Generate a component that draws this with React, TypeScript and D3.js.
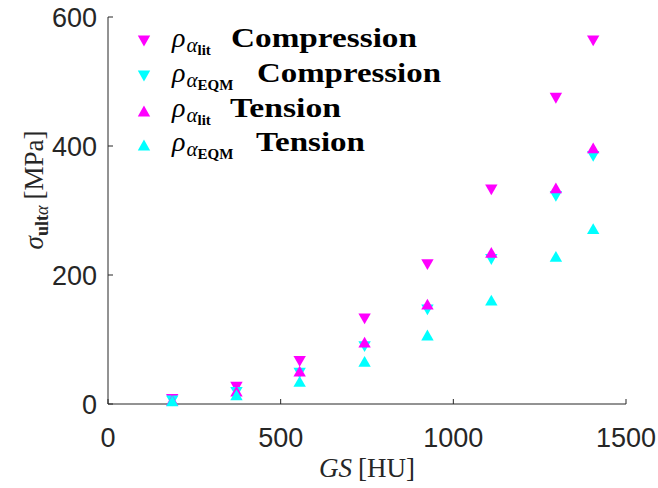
import React from "react";
import * as d3 from "d3";

const gsValues = [186, 372, 555, 743, 925, 1110, 1297, 1405];
const litCompression = [7, 26, 66, 132, 216, 332, 474, 563];
const eqmCompression = [5, 18, 48, 89, 146, 224, 322, 384];
const litTension = [6, 20, 51, 96, 155, 235, 335, 397];
const eqmTension = [5, 14, 35, 66, 107, 161, 229, 272];
const xTicks = [0, 500, 1000, 1500];
const yTicks = [0, 200, 400, 600];

const MAGENTA = "#ff00ff";
const CYAN = "#00ffff";
const AX = "#262626";

const W = 658;
const H = 488;
const x = d3.scaleLinear().domain([0, 1500]).range([108, 626]);
const y = d3.scaleLinear().domain([0, 600]).range([404, 17]);

const series = [
  { vals: litCompression, color: MAGENTA, dir: "down", sub: "lit", label: "Compression" },
  { vals: eqmCompression, color: CYAN, dir: "down", sub: "EQM", label: "Compression" },
  { vals: litTension, color: MAGENTA, dir: "up", sub: "lit", label: "Tension" },
  { vals: eqmTension, color: CYAN, dir: "up", sub: "EQM", label: "Tension" },
];

function tri(cx: number, cy: number, dir: string) {
  const w = 6.2, h = 5.4;
  if (dir === "down") return `M${cx - w},${cy - h}L${cx + w},${cy - h}L${cx},${cy + h}Z`;
  return `M${cx - w},${cy + h}L${cx + w},${cy + h}L${cx},${cy - h}Z`;
}

const tserif = "'Liberation Serif', serif";
const sans = "'Liberation Sans', Arial, sans-serif";

const legendY = [41, 76, 111, 145];
const legendText = [
  { sx: 231, len: 186 },
  { sx: 257, len: 184 },
  { sx: 230, len: 111 },
  { sx: 256, len: 109 },
];

export default function App() {
  return (
    <div style={{ position: "absolute", left: 0, top: 0 }}>
      <svg width={W} height={H} style={{ display: "block", background: "#fff" }}>
        {/* axes */}
        <line x1={108} x2={108} y1={17} y2={404} stroke={AX} strokeWidth={1} />
        <line x1={108} x2={626} y1={404} y2={404} stroke={AX} strokeWidth={1} />
        {xTicks.map((t) => (
          <g key={"x" + t}>
            <line x1={x(t)} x2={x(t)} y1={404} y2={399} stroke={AX} />
            <text x={x(t)} y={447} textAnchor="middle" fontFamily={sans} fontSize={27} fill={AX}>
              {t}
            </text>
          </g>
        ))}
        {yTicks.map((t) => (
          <g key={"y" + t}>
            <line x1={108} x2={113} y1={y(t)} y2={y(t)} stroke={AX} />
            <text x={97} y={y(t) + 10} textAnchor="end" fontFamily={sans} fontSize={27} fill={AX}>
              {t}
            </text>
          </g>
        ))}
        {/* x label */}
        <text x={367} y={477} textAnchor="middle" fontFamily={tserif} fontSize={27} fill={AX}>
          <tspan fontStyle="italic">GS</tspan>
          <tspan dx={6}>[HU]</tspan>
        </text>
        {/* y label */}
        <text
          transform="translate(43,190) rotate(-90)"
          textAnchor="middle"
          fontFamily={tserif}
          fontSize={27}
          fill={AX}
        >
          <tspan fontStyle="italic">σ</tspan>
          <tspan fontSize={18} fontWeight="bold" dy={5}>ult</tspan>
          <tspan fontSize={18} fontStyle="italic">α</tspan>
          <tspan dy={-5} dx={6}>[MPa]</tspan>
        </text>
        {/* data */}
        {series.map((s, si) => (
          <g key={"s" + si} fill={s.color}>
            {s.vals.map((v, i) => (
              <path key={i} d={tri(x(gsValues[i]), y(v), s.dir)} />
            ))}
          </g>
        ))}
        {/* legend */}
        {series.map((s, si) => {
          const cy = legendY[si];
          const base = cy + 6;
          return (
            <g key={"l" + si}>
              <path d={tri(144, cy, s.dir)} fill={s.color} />
              <text x={172} y={base} fontFamily={tserif} fontSize={28} fill="#000">
                <tspan fontStyle="italic">ρ</tspan>
                <tspan fontStyle="italic" fontSize={21} dy={5} dx={1}>α</tspan>
                <tspan fontWeight="bold" fontSize={15} dy={3}>{s.sub}</tspan>
              </text>
              <text
                x={legendText[si].sx}
                y={base}
                fontFamily={tserif}
                fontWeight="bold"
                fontSize={27}
                fill="#000"
                textLength={legendText[si].len}
                lengthAdjust="spacingAndGlyphs"
              >
                {s.label}
              </text>
            </g>
          );
        })}
      </svg>
    </div>
  );
}
